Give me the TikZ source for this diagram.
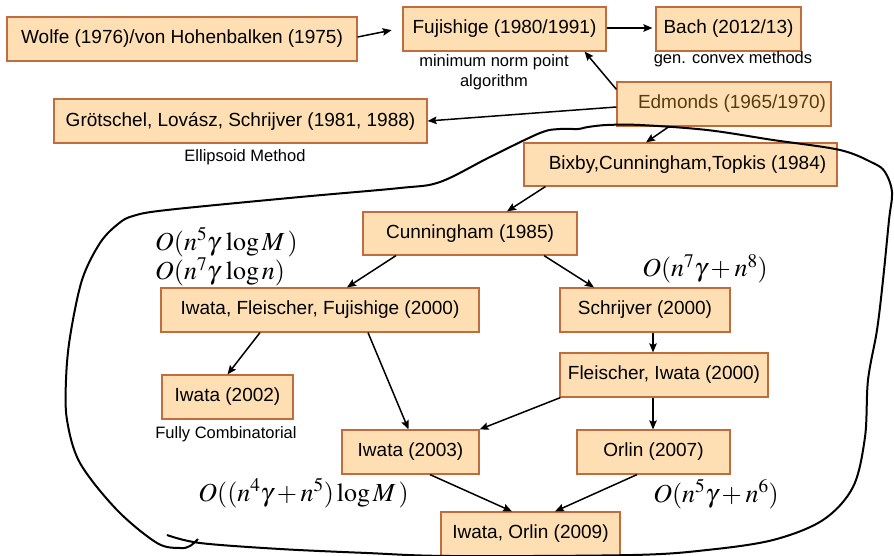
\documentclass[tikz,border=0pt]{standalone}
\usepackage{mathptmx}
\usepackage[no-math]{fontspec}
\setmainfont{Liberation Sans}
\usetikzlibrary{arrows.meta}
\definecolor{boxfill}{RGB}{253,223,179}
\definecolor{boxline}{RGB}{192,108,60}
\definecolor{edmtext}{RGB}{92,58,16}
\tikzset{
  x=1pt, y=-1pt,
  refbox/.style={draw=boxline, fill=boxfill, line width=1.2pt, inner sep=0pt,
    font=\fontsize{19}{22}\selectfont, minimum height=44pt},
  note/.style={font=\fontsize{16.5}{20}\selectfont, inner sep=0pt, align=center},
  cx/.style={font=\fontsize{26}{30}\selectfont, inner sep=0pt},
  link/.style={line width=1.5pt, -{Stealth[length=9pt,width=7.5pt,inset=1.5pt]}},
  loopline/.style={line width=2pt}
}
\begin{document}
\begin{tikzpicture}
\useasboundingbox (0,0) rectangle (894,556);
% boxes
\node[refbox, minimum width=350pt] (wolfe) at (182,39) {Wolfe (1976)/von Hohenbalken (1975)};
\node[refbox, minimum width=203pt] (fuji) at (504.5,29) {Fujishige (1980/1991)};
\node[refbox, minimum width=145pt] (bach) at (728.5,29) {Bach (2012/13)};
\node[refbox, minimum width=214pt, text=edmtext] (edm) at (724,104) {\hspace*{16pt}Edmonds (1965/1970)};
\node[refbox, minimum width=373pt] (grot) at (240.5,121) {Grötschel, Lovász, Schrijver (1981, 1988)};
\node[refbox, minimum width=313pt, minimum height=43pt] (bixby) at (680.5,164.5) {\hspace*{14pt}Bixby,Cunningham,Topkis (1984)};
\node[refbox, minimum width=214pt, minimum height=43pt] (cunn) at (470,233.5) {Cunningham (1985)};
\node[refbox, minimum width=318pt] (iff) at (320,310) {Iwata, Fleischer, Fujishige (2000)};
\node[refbox, minimum width=170pt] (schr) at (645,310) {Schrijver (2000)};
\node[refbox, minimum width=208pt] (fi) at (664,375) {Fleischer, Iwata (2000)};
\node[refbox, minimum width=131pt] (iw02) at (227.5,397) {Iwata (2002)};
\node[refbox, minimum width=137pt] (iw03) at (410.5,452) {Iwata (2003)};
\node[refbox, minimum width=153pt] (orlin) at (653.5,452) {Orlin (2007)};
\node[refbox, minimum width=179pt] (io) at (530.5,534) {Iwata, Orlin (2009)};
% notes
\node[note] (minnorm) at (494,72) {minimum norm point\\algorithm};
\node[note] (genconv) at (733,59) {gen. convex methods};
\node[note] (ellip) at (245,157) {Ellipsoid Method};
\node[note] (fully) at (226,434) {Fully Combinatorial};
% complexities
\node[cx, anchor=west] (c1) at (155,242) {$O(n^5\gamma\,\log M\,)$};
\node[cx, anchor=west] (c2) at (155,272) {$O(n^7\gamma\,\log n)$};
\node[cx] (c3) at (705,269) {$O(n^7\gamma+n^8)$};
\node[cx] (c4) at (303.5,493) {$O((n^4\gamma+n^5)\log M\,)$};
\node[cx] (c5) at (716,494) {$O(n^5\gamma+n^6)$};
% connectors
\draw[link, shorten >=11pt] ([yshift=2pt]wolfe.east) -- ([yshift=1pt]fuji.west);
\draw[link, shorten >=3pt] ([yshift=1pt]fuji.east) -- ([yshift=1pt]bach.west);
\draw[link] ([yshift=-8pt]edm.north west) -- ([xshift=-22pt]fuji.south east);
\draw[link] ([yshift=-3pt]edm.west) -- (grot.east);
\draw[link] ([xshift=-55pt]edm.south) -- ([xshift=-34.5pt]bixby.north);
\draw[link] ([xshift=22pt]bixby.south west) -- ([xshift=37pt]cunn.north);
\draw[link] ([xshift=-74pt]cunn.south) -- ([xshift=27pt]iff.north);
\draw[link] ([xshift=74pt]cunn.south) -- ([xshift=-51pt]schr.north);
\draw[link] ([xshift=-60pt]iff.south) -- (iw02.north);
\draw[link] ([xshift=48pt]iff.south) -- ([xshift=-2pt]iw03.north);
\draw[link] ([xshift=8pt]schr.south) -- ([xshift=-11pt]fi.north);
\draw[link] ([xshift=1pt]fi.south west) -- (iw03.north east);
\draw[link] ([xshift=-11pt]fi.south) -- ([xshift=-11pt]fi.south |- orlin.north);
\draw[link] ([xshift=19.5pt]iw03.south) -- ([xshift=-18.5pt]io.north);
\draw[link] ([xshift=-16.5pt]orlin.south) -- ([xshift=24.5pt]io.north);
% hand-drawn enclosing loop
\draw[loopline] plot[smooth, tension=0.55] coordinates {
 (167,535) (200,543) (280,549) (367,553) (450,556) (633,555) (707,550)
 (773,540) (823,520) (853,487) (865,437) (868,380) (877,330) (883,280)
 (889,220) (892,192) (885,172) (873,163) (840,150) (773,140) (707,130)
 (640,125) (607,125) (588,127) (578,129) (560,129) (540,133) (490,157)
 (440,182) (400,188) (300,197) (167,210) (133,216) (118,224) (100,243)
 (82,280) (70,337) (66,380) (67,420) (80,463) (117,510) (157,543)
 (180,548) (190,546) (198,539)};
\end{tikzpicture}
\end{document}
